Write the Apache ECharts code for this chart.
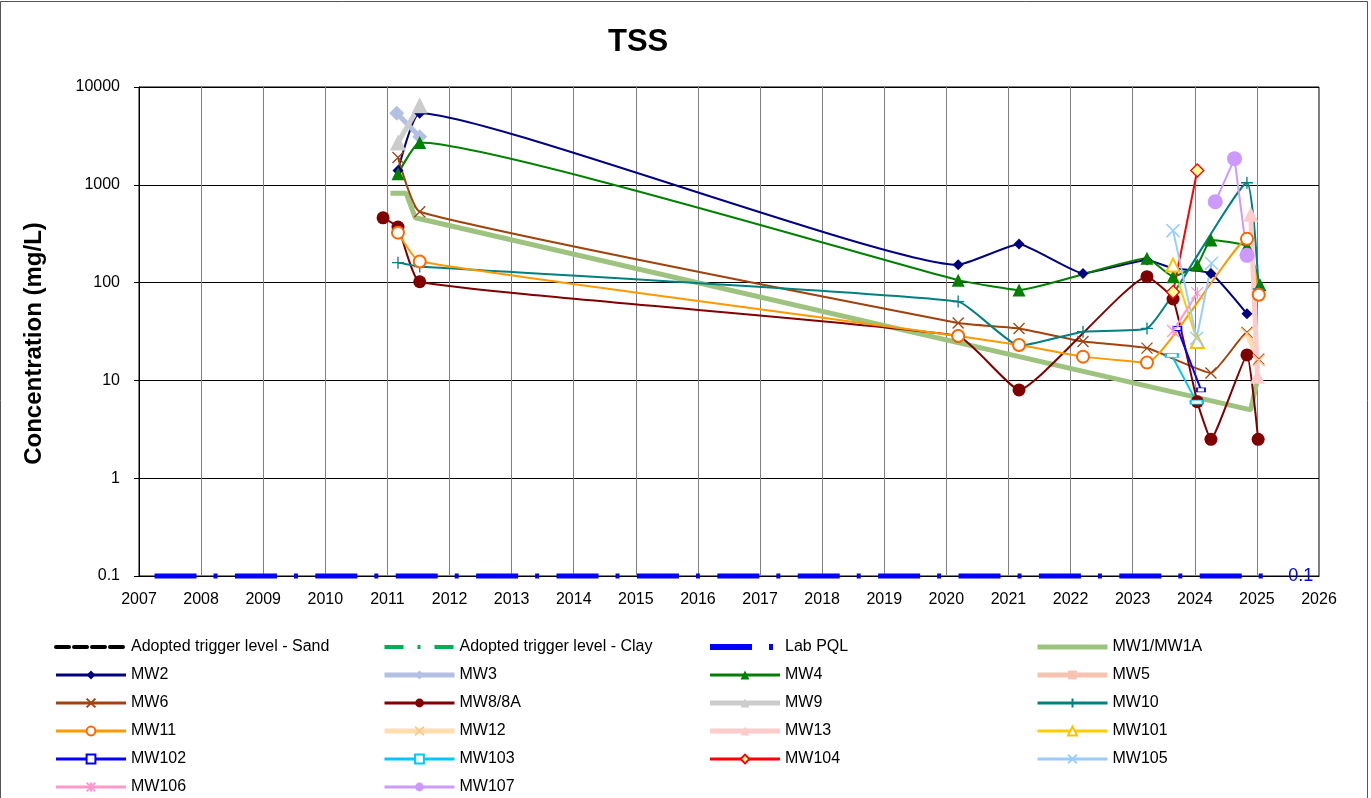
<!DOCTYPE html>
<html><head><meta charset="utf-8">
<script src="https://cdn.jsdelivr.net/npm/echarts@6/dist/echarts.min.js"></script>
<style>html,body{margin:0;padding:0;background:#fff}#c{width:1371px;height:798px}</style>
</head><body><div id="c"></div>
<script>
// ---- data (decimal year, mg/L) ----
const xTicks = [2007,2008,2009,2010,2011,2012,2013,2014,2015,2016,2017,2018,2019,2020,2021,2022,2023,2024,2025,2026];
const yTicks = [0.1,1,10,100,1000,10000];
const sand = [];
const clay = [];
const pql = [[2007.25,0.1],[2025.36,0.1]];
const mw1 = [[2011.05,820],[2011.3,820],[2011.45,460],[2024.9,5],[2025.02,11]];
const mw2 = [[2011.17,1400],[2011.52,5400],[2020.19,152],[2021.17,248],[2022.2,124],[2023.23,170],[2023.65,140],[2024.26,124],[2024.84,48]];
const mw3 = [[2011.15,5400],[2011.52,3100]];
const mw4 = [[2011.17,1300],[2011.52,2700],[2020.19,106],[2021.17,84],[2023.23,177],[2023.65,115],[2024.04,151],[2024.26,273],[2024.84,235],[2025.05,95]];
const mw5 = [];
const mw6 = [[2011.17,1900],[2011.52,530],[2020.19,38.6],[2021.17,34],[2022.2,25],[2023.23,21.4],[2024.26,11.9],[2024.84,31],[2025.03,16.5]];
const mw8 = [[2010.93,460],[2011.17,370],[2011.52,102],[2020.19,28.4],[2021.17,8],[2023.23,115],[2023.65,68],[2024.04,6.05],[2024.26,2.5],[2024.84,18.2],[2025.02,2.5]];
const mw9 = [[2011.17,2700],[2011.52,6500]];
const mw10 = [[2011.17,160],[2011.52,146],[2020.19,64],[2021.17,22.5],[2022.2,31.5],[2023.23,34],[2024.84,1050],[2025.03,86]];
const mw11 = [[2011.17,324],[2011.52,164],[2020.19,28.5],[2021.17,23],[2022.2,17.5],[2023.23,15.2],[2024.84,280],[2025.03,75]];
const mw12 = [[2024.84,30],[2025.03,16]];
const mw13 = [[2024.9,500],[2025.01,11]];
const mw101 = [[2023.65,151],[2024.04,25]];
const mw102 = [[2023.72,34],[2024.1,8]];
const mw103 = [[2023.63,18],[2024.03,6]];
const mw104 = [[2023.65,80],[2024.04,1400]];
const mw105 = [[2023.65,340],[2024.03,27],[2024.27,158]];
const mw106 = [[2023.65,32],[2024.04,78]];
const mw107 = [[2024.33,670],[2024.64,1850],[2024.84,190]];

const FONT = '"Liberation Sans", Arial, sans-serif';
const X_PATH = 'path://M0,0L10,10M10,0L0,10';
const PLUS_PATH = 'path://M5,0L5,10M0,5L10,5';
const STAR_PATH = 'path://M0,0L10,10M10,0L0,10M5,0L5,10';

function ser(name, data, color, o) {
  o = o || {};
  return {
    name: name, type: 'line', data: data,
    smooth: o.smooth === undefined ? 0.13 : o.smooth,
    symbol: o.symbol || 'none',
    symbolSize: o.size || 10,
    showSymbol: !!o.symbol,
    lineStyle: Object.assign({color: color, width: o.width || 2}, o.line || {}),
    itemStyle: Object.assign({color: color}, o.item || {}),
    emphasis: {disabled: true},
    endLabel: o.endLabel || {show: false},
    clip: false,
    z: 2
  };
}

const series = [
  ser('Adopted trigger level - Sand', sand, '#000000', {width: 4, line: {type: [13, 5], cap: 'round'}}),
  ser('Adopted trigger level - Clay', clay, '#00B050', {width: 4, line: {type: [19, 14, 3, 14]}}),
  ser('Lab PQL', pql, '#0000FF', {width: 5, smooth: false, line: {type: [42, 17, 4, 17.4]},
      endLabel: {show: true, formatter: '0.1', color: '#0000FF', fontSize: 18, fontFamily: FONT, distance: 9}}),
  ser('MW1/MW1A', mw1, '#9DC37F', {width: 5, smooth: false}),
  ser('MW2', mw2, '#000080', {symbol: 'diamond', size: 11}),
  ser('MW3', mw3, '#B4C0E2', {width: 5, symbol: 'diamond', size: 15, smooth: false}),
  ser('MW4', mw4, '#008000', {symbol: 'triangle', size: 13}),
  ser('MW5', mw5, '#F5C3B0', {width: 5, symbol: 'rect', size: 10}),
  ser('MW6', mw6, '#A0440F', {symbol: X_PATH, size: 11, item: {borderColor: '#A0440F', borderWidth: 1.3}}),
  ser('MW8/8A', mw8, '#800000', {symbol: 'circle', size: 13}),
  ser('MW9', mw9, '#CCCCCC', {width: 5, symbol: 'triangle', size: 16, smooth: false}),
  ser('MW10', mw10, '#008080', {symbol: PLUS_PATH, size: 12, item: {borderColor: '#008080', borderWidth: 1.3}}),
  ser('MW11', mw11, '#FF9900', {symbol: 'emptyCircle', size: 12, item: {color: '#FF6600', borderColor: '#FF6600', borderWidth: 1.3}}),
  ser('MW12', mw12, '#FFDDB0', {width: 5, symbol: X_PATH, size: 12, smooth: false, item: {borderColor: '#FFC890', borderWidth: 1.5}}),
  ser('MW13', mw13, '#FFCCCC', {width: 5, symbol: 'triangle', size: 15, smooth: false}),
  ser('MW101', mw101, '#FFCC00', {symbol: 'emptyTriangle', size: 13, smooth: false, item: {color: '#FFC000', borderColor: '#FFC000', borderWidth: 1.3}}),
  ser('MW102', mw102, '#0000FF', {symbol: 'rect', size: [8, 4], smooth: false, item: {color: '#ffffff', borderColor: '#0000FF', borderWidth: 1.3}}),
  ser('MW103', mw103, '#00C8F8', {symbol: 'rect', size: [12, 4], smooth: false, item: {color: '#ffffff', borderColor: '#00C8F8', borderWidth: 1.3}}),
  ser('MW104', mw104, '#FF0000', {symbol: 'diamond', size: 13, smooth: false, item: {color: '#FFFF99', borderColor: '#FF0000', borderWidth: 1.3}}),
  ser('MW105', mw105, '#99CCFF', {symbol: X_PATH, size: 13, smooth: false, item: {borderColor: '#99CCFF', borderWidth: 1.5}}),
  ser('MW106', mw106, '#FF99CC', {symbol: STAR_PATH, size: 12, smooth: false, item: {borderColor: '#FF99CC', borderWidth: 1.3}}),
  ser('MW107', mw107, '#CC99FF', {symbol: 'circle', size: 15, smooth: false})
];

const noMarker = ['Adopted trigger level - Sand', 'Adopted trigger level - Clay', 'Lab PQL', 'MW1/MW1A'];
const legendWidth = {'Adopted trigger level - Sand': 4, 'Adopted trigger level - Clay': 4, 'Lab PQL': 6, 'MW1/MW1A': 5,
  'MW3': 5, 'MW5': 5, 'MW9': 5, 'MW12': 5, 'MW13': 5};
function col(names, left) {
  return {
    type: 'plain', orient: 'vertical', left: left, top: 639, padding: 0,
    width: 320, height: 220,
    itemWidth: 70, itemHeight: 11, itemGap: 12,
    selectedMode: false,
    textStyle: {fontFamily: FONT, fontSize: 16, color: '#000'},
    data: names.map(n => {
      const d = {name: n, lineStyle: {width: legendWidth[n] || 3}};
      if (noMarker.indexOf(n) >= 0) d.itemStyle = {opacity: 0};
      return d;
    })
  };
}

const option = {
  animation: false,
  backgroundColor: '#ffffff',
  title: {text: 'TSS', left: 608, top: 27, padding: 0, textStyle: {fontFamily: FONT, fontSize: 31, fontWeight: 'bold', color: '#000'}},
  grid: {left: 139, right: 52, top: 87, bottom: 222, show: true, borderColor: '#000', borderWidth: 1, containLabel: false},
  legend: [
    col(['Adopted trigger level - Sand', 'MW2', 'MW6', 'MW11', 'MW102', 'MW106'], 54),
    col(['Adopted trigger level - Clay', 'MW3', 'MW8/8A', 'MW12', 'MW103', 'MW107'], 382),
    col(['Lab PQL', 'MW4', 'MW9', 'MW13', 'MW104'], 707),
    col(['MW1/MW1A', 'MW5', 'MW10', 'MW101', 'MW105'], 1035)
  ],
  xAxis: {
    type: 'value', min: xTicks[0], max: xTicks[xTicks.length - 1], interval: 1,
    axisLine: {show: true, lineStyle: {color: '#000', width: 1}},
    axisTick: {show: false},
    axisLabel: {fontFamily: FONT, fontSize: 16, color: '#000', margin: 16, formatter: v => String(v)},
    splitLine: {show: true, lineStyle: {color: '#808080', width: 1}}
  },
  yAxis: {
    type: 'log', logBase: 10, min: yTicks[0], max: yTicks[yTicks.length - 1],
    name: 'Concentration (mg/L)', nameLocation: 'middle', nameGap: 93,
    nameTextStyle: {fontFamily: FONT, fontSize: 24, fontWeight: 'bold', color: '#000', padding: [0, 24, 0, 0]},
    axisLine: {show: true, lineStyle: {color: '#000', width: 1}},
    axisTick: {show: true, length: 5, lineStyle: {color: '#000'}},
    minorTick: {show: false},
    axisLabel: {fontFamily: FONT, fontSize: 16, color: '#000', margin: 19, formatter: v => String(v)},
    splitLine: {show: true, lineStyle: {color: '#000', width: 1}}
  },
  graphic: [{type: 'rect', shape: {x: 0.5, y: 1.5, width: 1367, height: 800}, style: {fill: 'none', stroke: '#555', lineWidth: 1}, silent: true}],
  series: series
};
const chart = echarts.init(document.getElementById('c'));
chart.setOption(option);
</script>
</body></html>
